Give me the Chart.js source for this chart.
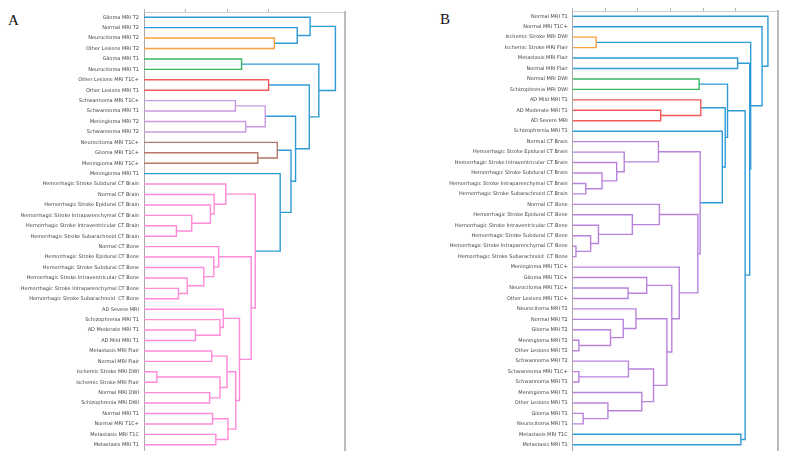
<!DOCTYPE html>
<html><head><meta charset="utf-8">
<script src="https://cdn.jsdelivr.net/npm/chart.js@4.4.1/dist/chart.umd.min.js"></script>
<style>
html,body{margin:0;padding:0;background:#fff;width:787px;height:459px;overflow:hidden}
.panel{position:absolute;top:0;height:459px}
#wa{left:0;width:395px}
#wb{left:395px;width:392px}
.lab{position:absolute;font-family:"Liberation Serif","DejaVu Serif",serif;font-size:15px;color:#111;line-height:1}
</style></head><body>
<div class="lab" style="left:8px;top:13px">A</div>
<div class="lab" style="left:440px;top:12px">B</div>
<div class="panel" id="wa"><canvas id="ca"></canvas></div>
<div class="panel" id="wb"><canvas id="cb"></canvas></div>
<script>
// ---------- Panel A ----------
const leavesA = [
  "Glioma MRI T2","Normal MRI T2","Neurocitoma MRI T2","Other Lesions MRI T2",
  "Glioma MRI T1","Neurocitoma MRI T1","Other Lesions MRI T1C+","Other Lesions MRI T1",
  "Schwannoma MRI T1C+","Schwannoma MRI T1","Meningioma MRI T2","Schwannoma MRI T2",
  "Neurocitoma MRI T1C+","Glioma MRI T1C+","Meningioma MRI T1C+","Meningioma MRI T1",
  "Hemorrhagic Stroke Subdural CT Brain","Normal CT Brain","Hemorrhagic Stroke Epidural CT Brain",
  "Hemorrhagic Stroke Intraparenchymal CT Brain","Hemorrhagic Stroke Intraventricular CT Brain",
  "Hemorrhagic Stroke Subarachnoid CT Brain","Normal CT Bone","Hemorrhagic Stroke Epidural CT Bone",
  "Hemorrhagic Stroke Subdural CT Bone","Hemorrhagic Stroke Intraventricular CT Bone",
  "Hemorrhagic Stroke Intraparenchymal CT Bone","Hemorrhagic Stroke Subarachnoid  CT Bone",
  "AD Severe MRI","Schizophrenia MRI T1","AD Moderate MRI T1","AD Mild MRI T1",
  "Metastasis MRI Flair","Normal MRI Flair","Ischemic Stroke MRI DWI","Ischemic Stroke MRI Flair",
  "Normal MRI DWI","Schizophrenia MRI DWI","Normal MRI T1","Normal MRI T1C+",
  "Metastasis MRI T1C","Metastasis MRI T1"
];
const leafGroupA = [0,0,1,1,2,2,3,3,4,4,4,4,5,5,5,0,
  6,6,6,6,6,6,6,6,6,6,6,6,6,6,6,6,6,6,6,6,6,6,6,6,6,6];
// linkage: node ids < 42 are leaves, id 42+j is merge j
const linkLeftA  = [2,1,0,4,6,8,10,47,13,12, 20,19,18,17,16, 26,25,24,23,22, 30,29,28,32,34,36,66,65,38,40,70,69,64,61,56,15,51,49,46,45,44];
const linkRightA = [3,42,43,5,7,9,11,48,14,50, 21,52,53,54,55, 27,57,58,59,60, 31,62,63,33,35,37,67,68,39,41,71,72,73,74,75,76,77,78,79,80,81];
const linkHeightA = [3.14,3.69,4.00,2.35,3.00,2.20,2.45,2.92,2.74,3.21,
  0.78,1.15,1.60,1.69,1.97, 0.83,1.04,1.44,1.68,1.80,
  1.24,1.83,1.91,1.63,0.31,1.58,1.83,2.00,1.65,1.73,2.02,2.21,2.30,2.58,2.68,
  3.28,3.54,3.65,3.98,4.21,4.61];

// ---------- Panel B ----------
const leavesB = [
  "Normal MRI T1","Normal MRI T1C+","Ischemic Stroke MRI DWI","Ischemic Stroke MRI Flair",
  "Metastasis MRI Flair","Normal MRI Flair","Normal MRI DWI","Schizophrenia MRI DWI",
  "AD Mild MRI T1","AD Moderate MRI T1","AD Severe MRI","Schizophrenia MRI T1",
  "Normal CT Brain","Hemorrhagic Stroke Epidural CT Brain","Hemorrhagic Stroke Intraventricular CT Brain",
  "Hemorrhagic Stroke Subdural CT Brain","Hemorrhagic Stroke Intraparenchymal CT Brain",
  "Hemorrhagic Stroke Subarachnoid CT Brain","Normal CT Bone","Hemorrhagic Stroke Epidural CT Bone",
  "Hemorrhagic Stroke Intraventricular CT Bone","Hemorrhagic Stroke Subdural CT Bone",
  "Hemorrhagic Stroke Intraparenchymal CT Bone","Hemorrhagic Stroke Subarachnoid  CT Bone",
  "Meningioma MRI T1C+","Glioma MRI T1C+","Neurocitoma MRI T1C+","Other Lesions MRI T1C+",
  "Neurocitoma MRI T2","Normal MRI T2","Glioma MRI T2","Meningioma MRI T2","Other Lesions MRI T2",
  "Schwannoma MRI T2","Schwannoma MRI T1C+","Schwannoma MRI T1","Meningioma MRI T1",
  "Other Lesions MRI T1","Glioma MRI T1","Neurocitoma MRI T1","Metastasis MRI T1C","Metastasis MRI T1"
];
const leafGroupB = [0,0,1,1,0,0,2,2,3,3,3,0,
  4,4,4,4,4,4,4,4,4,4,4,4,4,4,4,4,4,4,4,4,4,4,4,4,4,4,4,4,0,0];
const linkLeftB  = [2,4,6,9,8, 16,15,14,13,12, 22,21,20,19,18, 26,25,31,30,29,28,34,33,38,37,36,64,62,58,24,56,51,11,46,44,40,76,43,42,1,0];
const linkRightB = [3,5,7,10,45, 17,47,48,49,50, 23,52,53,54,55, 27,57,32,59,60,61,35,63,39,65,66,67,68,69,70,71,72,73,74,75,41,77,78,79,80,81];
const linkHeightB = [0.72,5.06,3.88,2.70,3.93,
  0.40,0.90,1.35,1.58,2.63, 0.10,0.55,0.79,1.83,2.66,
  1.70,2.27,0.19,1.16,1.55,1.94,0.19,1.71,0.32,1.08,2.12,2.48,2.89,3.04,3.27,3.84,3.91,
  4.59,4.68,4.75,5.16,5.29,5.43,5.46,5.81,5.99];

// above-threshold colour first, then cluster colours
const groupColors = ['#2e9bd6','#f9a040','#35b860','#f25a5a','#c08fe0','#b5786a','#ff8ad8'];

function buildDatasets(leaves, groups, L, R, H, purple) {
  const ys = leaves.map((_, i) => i);
  const hs = leaves.map(() => 0);
  const gs = groups.slice();
  const ds = [];
  for (let j = 0; j < L.length; j++) {
    const a = L[j], b = R[j], h = H[j];
    const g = (gs[a] === gs[b] && gs[a] > 0) ? gs[a] : -1;
    ds.push({
      data: [{x: hs[a], y: ys[a]}, {x: h, y: ys[a]}, {x: h, y: ys[b]}, {x: hs[b], y: ys[b]}],
      borderColor: g > 0 ? (g === 4 && purple ? purple : groupColors[g]) : groupColors[0],
      borderWidth: 1.4, pointRadius: 0, fill: false, tension: 0
    });
    ys.push((ys[a] + ys[b]) / 2);
    hs.push(h);
    gs.push(g);
  }
  return ds;
}

function makeChart(id, leaves, groups, L, R, H, pad, yWidth, purple) {
  const maxH = Math.max(...H) * 1.05;
  return new Chart(document.getElementById(id), {
    type: 'line',
    data: { datasets: buildDatasets(leaves, groups, L, R, H, purple) },
    options: {
      responsive: true, maintainAspectRatio: false, animation: false, events: [],
      layout: { padding: pad },
      plugins: { legend: {display: false}, tooltip: {enabled: false} },
      scales: {
        x: { type: 'linear', position: 'top', min: 0, max: maxH,
             ticks: {display: false, stepSize: 1},
             afterBuildTicks: s => { s.ticks = s.ticks.filter(t => Number.isInteger(t.value)); },
             grid: {drawOnChartArea: false, drawTicks: true, tickLength: 3, color: '#b5b5b5', lineWidth: 1},
             border: {display: true, color: '#d0d0d0', width: 1},
             afterFit: s => { s.height = 4; } },
        y: { type: 'linear', reverse: true, min: -0.5, max: leaves.length - 0.5,
             afterBuildTicks: s => { s.ticks = leaves.map((_, i) => ({value: i})); },
             ticks: {autoSkip: false, padding: 5, color: '#444',
                     font: {family: 'DejaVu Sans', size: 5},
                     callback: v => (leaves[v] !== undefined ? leaves[v] : '')},
             grid: {display: true, drawOnChartArea: false, drawTicks: false},
             border: {display: true, color: '#a8a8a8', width: 1},
             afterFit: s => { s.width = yWidth; } },
        y2: { type: 'linear', position: 'right', display: true,
              ticks: {display: false},
              grid: {drawOnChartArea: false, drawTicks: false},
              border: {display: true, color: '#bdbdbd', width: 2},
              afterFit: s => { s.width = 0; } }
      }
    }
  });
}

makeChart('ca', leavesA, leafGroupA, linkLeftA, linkRightA, linkHeightA,
  {left: 0, right: 50, top: 8, bottom: 9}, 144, '#c99ae2');
makeChart('cb', leavesB, leafGroupB, linkLeftB, linkRightB, linkHeightB,
  {left: 0, right: 9.3, top: 7, bottom: 9}, 177.7, '#b982dc');
</script>
</body></html>
